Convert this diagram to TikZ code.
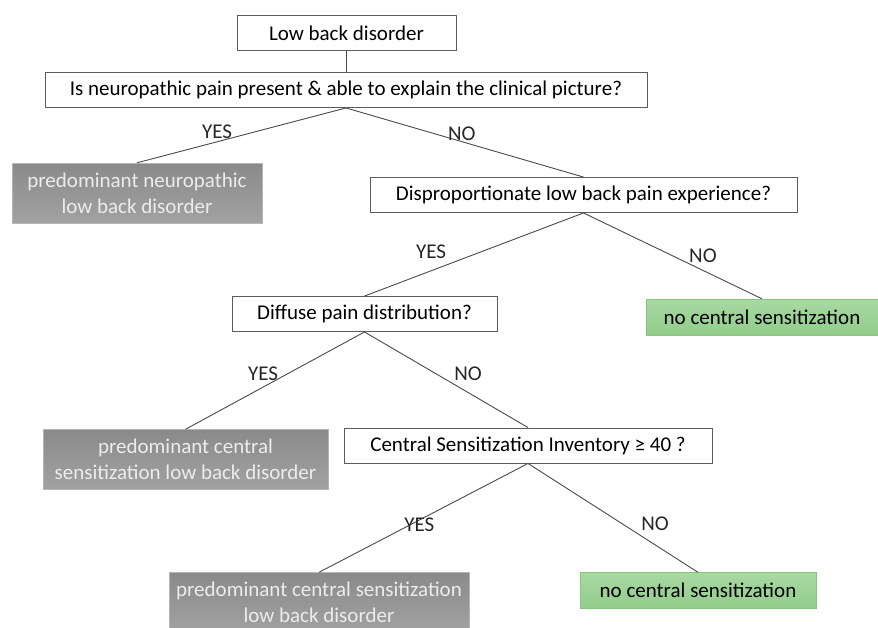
\documentclass[tikz,border=0pt]{standalone}
\usepackage{fontspec}
\setmainfont{Carlito}
\usetikzlibrary{positioning,shadings}
\definecolor{boxline}{HTML}{5C5C5C}
\definecolor{wire}{HTML}{4A4A4A}
\definecolor{greyTop}{HTML}{8A8A8A}
\definecolor{greyBot}{HTML}{A2A2A2}
\definecolor{greyText}{HTML}{ECECEC}
\definecolor{greenTop}{HTML}{A8D9A2}
\definecolor{greenBot}{HTML}{92CC8C}
\definecolor{greenLine}{HTML}{86C480}
\begin{document}
\begin{tikzpicture}[x=1pt,y=-1pt,font=\fontsize{21}{26}\selectfont,
q/.style={draw=boxline,fill=white,line width=0.9pt,minimum height=35pt,inner sep=0pt},
grey/.style={draw=greyBot!80!white,top color=greyTop,bottom color=greyBot,text=greyText,
  align=center,minimum height=60pt,inner sep=0pt},
ok/.style={draw=greenLine,top color=greenTop,bottom color=greenBot,minimum height=36pt,inner sep=0pt},
lbl/.style={inner sep=0pt,text=black!85}]
\useasboundingbox (0,0) rectangle (878,627);
\node[q,minimum width=219pt] (ld) at (346.5,33) {Low back disorder};
\node[q,minimum width=602pt] (np) at (346,90) {Is neuropathic pain present \& able to explain the clinical picture?};
\node[grey,minimum width=250pt] (pn) at (137,193) {predominant neuropathic\\low back disorder};
\node[q,minimum width=427pt] (dp) at (583.5,195) {Disproportionate low back pain experience?};
\node[ok,minimum width=232pt] (nc1) at (762,317) {no central sensitization};
\node[q,minimum width=265pt] (dd) at (364.5,314) {Diffuse pain distribution?};
\node[grey,minimum width=285pt] (pc1) at (185.5,459.5) {predominant central\\sensitization low back disorder};
\node[q,minimum width=368pt] (csi) at (528,445.5) {Central Sensitization Inventory ≥ 40 ?};
\node[grey,minimum width=300pt] (pc2) at (319,602.5) {predominant central sensitization\\low back disorder};
\node[ok,minimum width=236pt] (nc2) at (698,590.5) {no central sensitization};
\path[draw=wire,line width=0.9pt]
(ld.south) edge (ld.south |- np.north)
(np.south) edge node[lbl,pos=.617,yshift=10pt] (y1) {YES} (pn.north)
(np.south) edge node[lbl,pos=.488,yshift=8pt] (n1) {NO} (dp.north)
(dp.south) edge node[lbl,pos=.696,yshift=19pt] (y2) {YES} (dd.north)
(dp.south) edge node[lbl,pos=.669,yshift=15pt] (n2) {NO} (nc1.north)
(dd.south) edge node[lbl,pos=.567,yshift=13pt] (y3) {YES} (pc1.north)
(dd.south) edge node[lbl,pos=.633,yshift=19pt] (n3) {NO} (csi.north)
(csi.south) edge node[lbl,pos=.52,yshift=-5pt] (y4) {YES} (pc2.north)
(csi.south) edge node[lbl,pos=.747,yshift=21pt] (n4) {NO} (nc2.north);
\end{tikzpicture}
\end{document}
